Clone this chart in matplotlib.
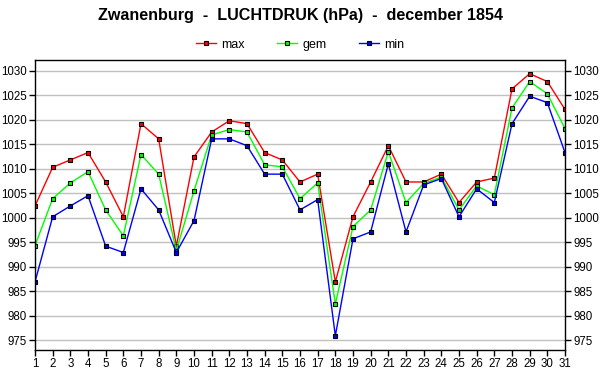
import matplotlib.pyplot as plt
import numpy as np

plt.rcParams['font.family'] = ['Liberation Sans', 'DejaVu Sans']

days = list(range(1, 32))
p_max = [1002.4, 1010.3, 1011.8, 1013.3, 1007.3, 1000.2, 1019.2, 1016.1, 994.2, 1012.4,
         1017.5, 1019.8, 1019.2, 1013.3, 1011.8, 1007.3, 1008.9, 986.9, 1000.2, 1007.3,
         1014.7, 1007.3, 1007.3, 1008.9, 1003.1, 1007.3, 1008.1, 1026.3, 1029.4, 1027.8, 1022.1]
p_gem = [994.3, 1003.9, 1007.1, 1009.4, 1001.6, 996.3, 1012.9, 1008.9, 993.3, 1005.5,
         1016.9, 1018.0, 1017.5, 1010.8, 1010.4, 1003.9, 1007.1, 982.4, 998.2, 1001.6,
         1013.5, 1003.1, 1007.0, 1008.3, 1001.6, 1006.5, 1004.7, 1022.4, 1027.8, 1025.3, 1018.2]
p_min = [986.9, 1000.2, 1002.4, 1004.5, 994.2, 992.9, 1005.9, 1001.6, 992.9, 999.4,
         1016.1, 1016.1, 1014.7, 1008.9, 1008.9, 1001.6, 1003.7, 975.9, 995.7, 997.1,
         1011.0, 997.1, 1006.7, 1008.0, 1000.2, 1005.9, 1003.1, 1019.2, 1024.8, 1023.5, 1013.3]
yticks = list(range(975, 1031, 5))

fig = plt.figure(figsize=(6, 3.9), dpi=100)
ax = fig.add_axes([35 / 600, 1 - 350 / 390, 530 / 600, 290 / 390])

series = [('max', p_max, '#ff0000'), ('gem', p_gem, '#00ff00'), ('min', p_min, '#0000ff')]
for name, vals, col in series:
    ax.plot(days, vals, color=col, lw=1, marker='s', ms=3.5, mfc=col, mec='black',
            mew=0.8, label=name)

ax.set_xlim(1, 31)
ax.set_ylim(973, 1032.2)
ax.set_xticks(days)
ax.set_yticks(yticks)
ax.yaxis.grid(True, color='#c0c0c0', lw=1)
ax.set_axisbelow(True)
ax.tick_params(axis='both', labelsize=8.3, length=4, width=1, pad=2)
ax.tick_params(axis='y', right=True, labelright=True)
for s in ax.spines.values():
    s.set_linewidth(1)

fig.suptitle('Zwanenburg  -  LUCHTDRUK (hPa)  -  december 1854', fontsize=11.6,
             fontweight='bold', y=0.98)
fig.legend(loc='center', bbox_to_anchor=(0.5, 0.885), ncol=3, frameon=False,
           fontsize=9, handlelength=1.6, columnspacing=2.6, handletextpad=0.4)

fig.savefig('out.png', dpi=100)
